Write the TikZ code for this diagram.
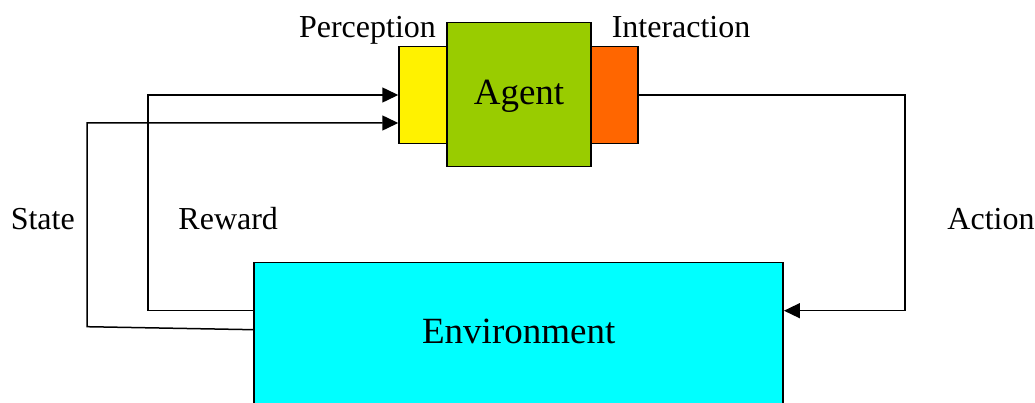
\documentclass[tikz,border=0pt]{standalone}
\usepackage{fontspec}
\setmainfont{Liberation Serif}
\usetikzlibrary{arrows.meta}
\definecolor{agentgreen}{HTML}{99CC00}
\definecolor{envcyan}{HTML}{00FFFF}
\definecolor{interorange}{HTML}{FF6600}
\begin{document}
\begin{tikzpicture}[x=1pt,y=-1pt,line width=1.5pt]
	\tikzstyle{kuang}=[draw,rectangle,inner sep=0pt,text depth=4pt];
	\tikzstyle{wen}=[inner sep=0pt,anchor=base west,font=\fontsize{32}{36}\selectfont];
	\tikzstyle{jian}=[-{Triangle[length=16pt,width=15pt]}];
	\useasboundingbox (0,0) rectangle (1035,403);
	\node[kuang,fill=yellow,minimum width=48pt,minimum height=96.6pt] (percep) at (423,95) {};
	\node[kuang,fill=interorange,minimum width=47pt,minimum height=96.6pt] (inter) at (614.5,95) {};
	\node[kuang,fill=agentgreen,minimum size=144pt,font=\fontsize{37}{40}\selectfont] (agent) at (519,94.7) {Agent};
	\node[kuang,fill=envcyan,minimum width=529pt,minimum height=142pt,font=\fontsize{37}{40}\selectfont] (env) at (518.7,333.7) {Environment};
	\coordinate (rbend) at (148,310.7);
	\coordinate (sbend) at (87,326.7);
	\coordinate (abend) at (905,310.7);
	\draw[jian] ([yshift=23pt]env.west) -- (rbend) |- (percep.west);
	\draw[jian] ([yshift=4pt]env.west) -- (sbend) |- ([yshift=-28pt]percep.west);
	\draw[jian] (inter.east) -| (abend) -- ([yshift=23pt]env.east);
	\node[wen] (state) at (10,230) {State};
	\node[wen] (reward) at (177.7,230) {Reward};
	\node[wen] (action) at (946.7,230) {Action};
	\node[wen] (perlab) at (298.3,37.3) {Perception};
	\node[wen] (intlab) at (611,37.3) {Interaction};
\end{tikzpicture}
\end{document}
